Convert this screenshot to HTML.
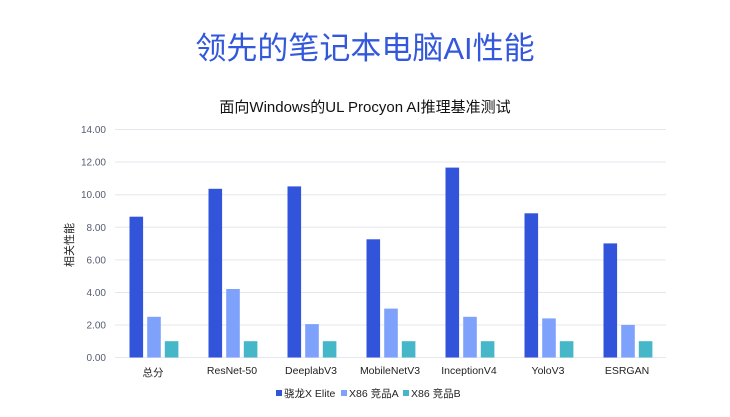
<!DOCTYPE html>
<html><head><meta charset="utf-8"><style>
body{margin:0;background:#fff;width:730px;height:412px;overflow:hidden}
</style></head><body>
<svg width="730" height="412" xmlns="http://www.w3.org/2000/svg" font-family="Liberation Sans, Noto Sans CJK SC, sans-serif">
<text x="365" y="59" text-anchor="middle" font-size="31" fill="#3358dc" font-family="Liberation Sans, Noto Sans CJK SC, sans-serif">领先的笔记本电脑AI性能</text>
<text x="365" y="112" text-anchor="middle" font-size="15" fill="#111">面向Windows的UL Procyon AI推理基准测试</text>
<g stroke="#e6e6ef" stroke-width="1">
<line x1="115" x2="666" y1="129.5" y2="129.5"/><line x1="115" x2="666" y1="162" y2="162"/><line x1="115" x2="666" y1="194.7" y2="194.7"/><line x1="115" x2="666" y1="227.3" y2="227.3"/><line x1="115" x2="666" y1="259.9" y2="259.9"/><line x1="115" x2="666" y1="292.5" y2="292.5"/><line x1="115" x2="666" y1="325" y2="325"/><line x1="115" x2="666" y1="357.5" y2="357.5"/>
</g>
<g font-size="10" fill="#555b70" text-anchor="end">
<text x="106" y="133">14.00</text><text x="106" y="165.5">12.00</text><text x="106" y="198">10.00</text><text x="106" y="231">8.00</text><text x="106" y="263.5">6.00</text><text x="106" y="296">4.00</text><text x="106" y="328.5">2.00</text><text x="106" y="361">0.00</text>
</g>
<text transform="translate(73,245) rotate(-90)" text-anchor="middle" font-size="11" fill="#222">相关性能</text>
<g id="bars"></g>
<g font-size="10.5" fill="#222" text-anchor="middle">
<text x="153" y="376">总分</text><text x="232" y="374">ResNet-50</text><text x="311" y="374">DeeplabV3</text><text x="390" y="374">MobileNetV3</text><text x="469" y="374">InceptionV4</text><text x="548" y="374">YoloV3</text><text x="627" y="374">ESRGAN</text>
</g>
<g font-size="10.5" fill="#222">
<rect x="276" y="390" width="6" height="6" fill="#3154db"/><text x="284" y="397">骁龙X Elite</text>
<rect x="341" y="390" width="6" height="6" fill="#7ea2fc"/><text x="349" y="397">X86 竞品A</text>
<rect x="403" y="390" width="6" height="6" fill="#45b7c8"/><text x="411" y="397">X86 竞品B</text>
</g>
<g>
<rect x="129.5" y="216.7" width="13.6" height="140.8" fill="#3154db"/>
<rect x="147.2" y="316.8" width="13.6" height="40.7" fill="#7ea2fc"/>
<rect x="164.8" y="341.2" width="13.6" height="16.3" fill="#45b7c8"/>
<rect x="208.5" y="188.8" width="13.6" height="168.7" fill="#3154db"/>
<rect x="226.2" y="289" width="13.6" height="68.5" fill="#7ea2fc"/>
<rect x="243.8" y="341.2" width="13.6" height="16.3" fill="#45b7c8"/>
<rect x="287.5" y="186.4" width="13.6" height="171.1" fill="#3154db"/>
<rect x="305.2" y="324.1" width="13.6" height="33.4" fill="#7ea2fc"/>
<rect x="322.8" y="341.2" width="13.6" height="16.3" fill="#45b7c8"/>
<rect x="366.5" y="239.3" width="13.6" height="118.2" fill="#3154db"/>
<rect x="384.2" y="308.6" width="13.6" height="48.9" fill="#7ea2fc"/>
<rect x="401.8" y="341.2" width="13.6" height="16.3" fill="#45b7c8"/>
<rect x="445.5" y="167.6" width="13.6" height="189.9" fill="#3154db"/>
<rect x="463.2" y="316.8" width="13.6" height="40.7" fill="#7ea2fc"/>
<rect x="480.8" y="341.2" width="13.6" height="16.3" fill="#45b7c8"/>
<rect x="524.5" y="213.3" width="13.6" height="144.2" fill="#3154db"/>
<rect x="542.2" y="318.4" width="13.6" height="39.1" fill="#7ea2fc"/>
<rect x="559.8" y="341.2" width="13.6" height="16.3" fill="#45b7c8"/>
<rect x="603.5" y="243.4" width="13.6" height="114.1" fill="#3154db"/>
<rect x="621.2" y="324.9" width="13.6" height="32.6" fill="#7ea2fc"/>
<rect x="638.8" y="341.2" width="13.6" height="16.3" fill="#45b7c8"/>
</g>
</svg>
</body></html>
